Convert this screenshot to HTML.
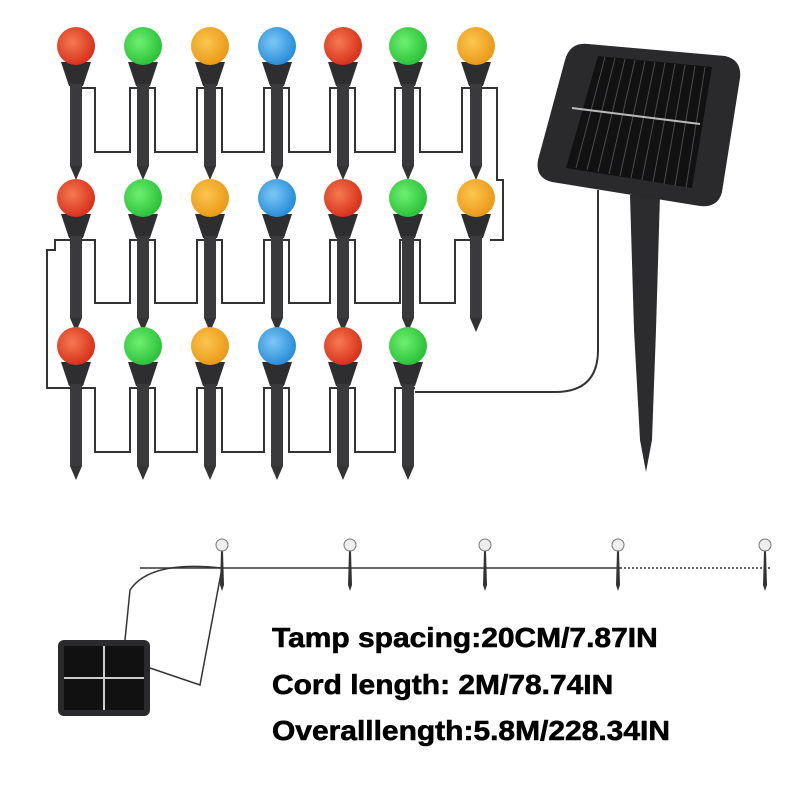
<!DOCTYPE html>
<html><head><meta charset="utf-8"><style>
html,body{margin:0;padding:0;background:#fff;width:800px;height:800px;overflow:hidden}
.t{position:absolute;left:272px;font-family:"Liberation Sans",sans-serif;font-weight:bold;font-size:28px;color:#000;transform-origin:left top;transform:scaleX(1.07);white-space:nowrap;-webkit-text-stroke:0.6px #000}
</style></head><body>
<svg width="800" height="800" style="position:absolute;left:0;top:0">
<defs>
<radialGradient id="gr" cx="0.4" cy="0.4" r="0.6"><stop offset="0" stop-color="#f57a50"/><stop offset="1" stop-color="#d8321c"/></radialGradient>
<radialGradient id="gg" cx="0.4" cy="0.4" r="0.6"><stop offset="0" stop-color="#6ef070"/><stop offset="1" stop-color="#2cc23a"/></radialGradient>
<radialGradient id="go" cx="0.4" cy="0.4" r="0.6"><stop offset="0" stop-color="#fbc650"/><stop offset="1" stop-color="#eb9a18"/></radialGradient>
<radialGradient id="gb" cx="0.4" cy="0.4" r="0.6"><stop offset="0" stop-color="#7cc8f5"/><stop offset="1" stop-color="#2a8ed8"/></radialGradient>
<g id="stk">
<path d="M-15,16 L15,16 L7,40 L-7,40 Z" fill="#2e2e30"/>
<rect x="-6" y="38" width="12" height="82" fill="#3a3a3c"/>
<path d="M-6,120 L6,120 L0,134 Z" fill="#333"/>
</g>
</defs>
<g fill="none" stroke="#333" stroke-width="2">
<path d="M82,88 H95 V152 H130 V88 H155 V152 H197 V88 H222 V152 H264 V88 H289 V152 H330 V88 H355 V152 H395 V88 H420 V152 H462 V88 H470 M482,88 H497 V180 H503 V240 H490"/>
<path d="M470,240 H455 V303 H420 V240 H400 V303 H355 V240 H330 V303 H289 V240 H264 V303 H222 V240 H197 V303 H155 V240 H130 V303 H95 V240 H82 M70,240 H55 V250 H47 V388 H70"/>
<path d="M82,388 H95 V452 H130 V388 H155 V452 H197 V388 H222 V452 H264 V388 H289 V452 H330 V388 H355 V452 H395 V388 H415 M415,392 H555 Q598,392 598,350 V190"/>
<path d="M140,568 H620" stroke-width="1.5"/>
<path d="M620,568 H770" stroke-width="1.5" stroke-dasharray="2,2"/>
<path d="M222,568 Q150,560 130,590 L125,640" stroke-width="1.5"/>
<path d="M222,568 L200,685 L150,668" stroke-width="1.5"/>
</g>
<g>
<use href="#stk" x="76" y="46"/><circle cx="76" cy="46" r="19" fill="url(#gr)"/>
<use href="#stk" x="143" y="46"/><circle cx="143" cy="46" r="19" fill="url(#gg)"/>
<use href="#stk" x="210" y="46"/><circle cx="210" cy="46" r="19" fill="url(#go)"/>
<use href="#stk" x="277" y="46"/><circle cx="277" cy="46" r="19" fill="url(#gb)"/>
<use href="#stk" x="343" y="46"/><circle cx="343" cy="46" r="19" fill="url(#gr)"/>
<use href="#stk" x="408" y="46"/><circle cx="408" cy="46" r="19" fill="url(#gg)"/>
<use href="#stk" x="476" y="46"/><circle cx="476" cy="46" r="19" fill="url(#go)"/>

<use href="#stk" x="76" y="198"/><circle cx="76" cy="198" r="19" fill="url(#gr)"/>
<use href="#stk" x="143" y="198"/><circle cx="143" cy="198" r="19" fill="url(#gg)"/>
<use href="#stk" x="210" y="198"/><circle cx="210" cy="198" r="19" fill="url(#go)"/>
<use href="#stk" x="277" y="198"/><circle cx="277" cy="198" r="19" fill="url(#gb)"/>
<use href="#stk" x="343" y="198"/><circle cx="343" cy="198" r="19" fill="url(#gr)"/>
<use href="#stk" x="408" y="198"/><circle cx="408" cy="198" r="19" fill="url(#gg)"/>
<use href="#stk" x="476" y="198"/><circle cx="476" cy="198" r="19" fill="url(#go)"/>

<use href="#stk" x="76" y="346"/><circle cx="76" cy="346" r="19" fill="url(#gr)"/>
<use href="#stk" x="143" y="346"/><circle cx="143" cy="346" r="19" fill="url(#gg)"/>
<use href="#stk" x="210" y="346"/><circle cx="210" cy="346" r="19" fill="url(#go)"/>
<use href="#stk" x="277" y="346"/><circle cx="277" cy="346" r="19" fill="url(#gb)"/>
<use href="#stk" x="343" y="346"/><circle cx="343" cy="346" r="19" fill="url(#gr)"/>
<use href="#stk" x="408" y="346"/><circle cx="408" cy="346" r="19" fill="url(#gg)"/>
</g>
<path d="M630,195 L660,195 L656,330 L652,440 L646,472 L640,440 L634,330 Z" fill="#2c2c2e"/>
<path d="M588,44 L725,56 Q742,60 740,78 L722,192 Q718,208 700,206 L552,182 Q535,178 538,160 L565,60 Q570,42 588,44 Z" fill="#2a2a2c"/>
<path d="M598,56 L712,67 L692,188 L566,168 Z" fill="#111"/>
<g stroke="#4a4a50" stroke-width="1">
<path d="M605,57 L576,168 M615,58 L587,170 M625,59 L598,172 M635,60 L609,174 M645,61 L620,176 M655,62 L631,178 M665,63 L642,180 M675,64 L653,182 M685,65 L664,184 M695,66 L675,186 M705,67 L686,188"/>
</g>
<path d="M572,108 L700,124" stroke="#bbb" stroke-width="2"/>
<g>
<g transform="translate(222,545)"><path d="M-1,6 L1,6 L2,40 L0,46 L-2,40 Z" fill="#333"/><circle r="6" fill="#eee" stroke="#777"/></g>
<g transform="translate(350,545)"><path d="M-1,6 L1,6 L2,40 L0,46 L-2,40 Z" fill="#333"/><circle r="6" fill="#eee" stroke="#777"/></g>
<g transform="translate(485,545)"><path d="M-1,6 L1,6 L2,40 L0,46 L-2,40 Z" fill="#333"/><circle r="6" fill="#eee" stroke="#777"/></g>
<g transform="translate(618,545)"><path d="M-1,6 L1,6 L2,40 L0,46 L-2,40 Z" fill="#333"/><circle r="6" fill="#eee" stroke="#777"/></g>
<g transform="translate(765,545)"><path d="M-1,6 L1,6 L2,40 L0,46 L-2,40 Z" fill="#333"/><circle r="6" fill="#eee" stroke="#777"/></g>
</g>
<rect x="58" y="640" width="92" height="76" rx="6" fill="#2a2a2c"/>
<rect x="64" y="646" width="80" height="64" fill="#111"/>
<path d="M104,646 V710 M64,678 H144" stroke="#ccc" stroke-width="2"/>
</svg>
<div class="t" style="top:622px">Tamp spacing:20CM/7.87IN</div>
<div class="t" style="top:669px">Cord length: 2M/78.74IN</div>
<div class="t" style="top:715px">Overalllength:5.8M/228.34IN</div>
</body></html>
